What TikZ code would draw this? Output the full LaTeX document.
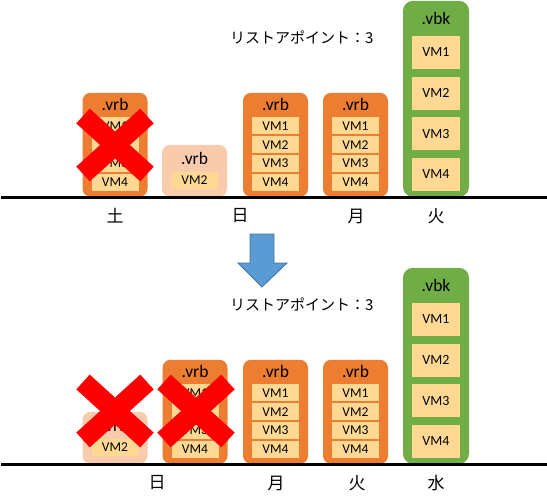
\documentclass[tikz,border=0pt]{standalone}
\usepackage{fontspec}
\setmainfont{Carlito}
\newfontfamily\jpfont{Noto Sans CJK JP}
\usetikzlibrary{positioning}

\definecolor{vrborange}{HTML}{ED7D31}
\definecolor{vrbpale}{HTML}{F8CBAD}
\definecolor{vbkgreen}{HTML}{70AD47}
\definecolor{vmcream}{HTML}{FFD993}
\definecolor{arrowblue}{HTML}{5B9BD5}
\definecolor{arrowedge}{HTML}{41719C}

\tikzset{
  vrbbox/.style={fill=vrborange, rounded corners=8pt, minimum width=65pt, minimum height=104pt, inner sep=0pt, anchor=south},
  palebox/.style={vrbbox, fill=vrbpale, minimum height=52pt},
  vbkbox/.style={vrbbox, fill=vbkgreen, minimum width=66pt, minimum height=196pt, rounded corners=10pt},
  boxtitle/.style={inner sep=0pt, font=\fontsize{17.5}{17.5}\selectfont},
  vmcell/.style={fill=vmcream, minimum width=47pt, minimum height=17pt, inner sep=0pt, font=\fontsize{13.5}{13.5}\selectfont},
  vmbig/.style={vmcell, minimum width=48pt, minimum height=33pt, font=\fontsize{14}{14}\selectfont},
  xmark/.style={draw=red, line width=20pt},
  ground/.style={line width=3pt},
  daylabel/.style={inner sep=0pt, font=\jpfont\fontsize{17}{17}\selectfont},
  rplabel/.style={anchor=west, inner sep=0pt, font=\jpfont\fontsize{15}{15}\selectfont},
}

\begin{document}
\begin{tikzpicture}[x=1pt, y=-1pt]
    \useasboundingbox (0,0) rectangle (547,504);

    % 上段
    \node[rplabel] (trp) at (230,37) {リストアポイント：3};
    \node[vrbbox] (ta) at (115,197) {};
    \node[boxtitle, below=5.5pt of ta.north] (taT) {.vrb};
    \node[vmcell, below=24.5pt of ta.north] (ta1) {VM1};
    \node[vmcell, below=1.5pt of ta1] (ta2) {VM2};
    \node[vmcell, below=1.5pt of ta2] (ta3) {VM3};
    \node[vmcell, below=1.5pt of ta3] (ta4) {VM4};
    \draw[xmark, shift={(115,145)}] (-32,-29) -- (32,29) (-32,29) -- (32,-29);

    \node[palebox] (tb) at (194.5,197) {};
    \node[boxtitle, below=7.5pt of tb.north] (tbT) {.vrb};
    \node[vmcell, below=27pt of tb.north] (tb2) {VM2};

    \node[vrbbox] (tc) at (275.5,197) {};
    \node[boxtitle, below=5.5pt of tc.north] (tcT) {.vrb};
    \node[vmcell, below=24.5pt of tc.north] (tc1) {VM1};
    \node[vmcell, below=1.5pt of tc1] (tc2) {VM2};
    \node[vmcell, below=1.5pt of tc2] (tc3) {VM3};
    \node[vmcell, below=1.5pt of tc3] (tc4) {VM4};

    \node[vrbbox] (td) at (355.5,197) {};
    \node[boxtitle, below=5.5pt of td.north] (tdT) {.vrb};
    \node[vmcell, below=24.5pt of td.north] (td1) {VM1};
    \node[vmcell, below=1.5pt of td1] (td2) {VM2};
    \node[vmcell, below=1.5pt of td2] (td3) {VM3};
    \node[vmcell, below=1.5pt of td3] (td4) {VM4};

    \node[vbkbox] (te) at (436,197) {};
    \node[boxtitle, below=11.5pt of te.north] (teT) {.vbk};
    \node[vmbig, below=35pt of te.north] (te1) {VM1};
    \node[vmbig, below=7.3pt of te1] (te2) {VM2};
    \node[vmbig, below=7.3pt of te2] (te3) {VM3};
    \node[vmbig, below=7.3pt of te3] (te4) {VM4};

    \draw[ground] (1,197) -- (547,197);
    \node[daylabel] (tsat) at (115,216) {土};
    \node[daylabel] (tsun) at (240,216) {日};
    \node[daylabel] (tmon) at (356,216) {月};
    \node[daylabel] (ttue) at (436,216) {火};

    % 矢印
    \draw[fill=arrowblue, draw=arrowedge, line width=0.8pt] (250,234) -- (274,234) -- (274,263) -- (287,263)
        -- (262,287) -- (238,263) -- (250,263) -- cycle;

    % 下段
    \node[rplabel] (brp) at (230,304) {リストアポイント：3};
    \node[palebox] (ba) at (115,464) {};
    \node[boxtitle, below=7.5pt of ba.north] (baT) {.vrb};
    \node[vmcell, below=27pt of ba.north] (ba2) {VM2};
    \draw[xmark, shift={(115,411)}] (-32,-29) -- (32,29) (-32,29) -- (32,-29);

    \node[vrbbox] (bb) at (195,464) {};
    \node[boxtitle, below=5.5pt of bb.north] (bbT) {.vrb};
    \node[vmcell, below=24.5pt of bb.north] (bb1) {VM1};
    \node[vmcell, below=1.5pt of bb1] (bb2) {VM2};
    \node[vmcell, below=1.5pt of bb2] (bb3) {VM3};
    \node[vmcell, below=1.5pt of bb3] (bb4) {VM4};
    \draw[xmark, shift={(196,411)}] (-32,-29) -- (32,29) (-32,29) -- (32,-29);

    \node[vrbbox] (bc) at (275.5,464) {};
    \node[boxtitle, below=5.5pt of bc.north] (bcT) {.vrb};
    \node[vmcell, below=24.5pt of bc.north] (bc1) {VM1};
    \node[vmcell, below=1.5pt of bc1] (bc2) {VM2};
    \node[vmcell, below=1.5pt of bc2] (bc3) {VM3};
    \node[vmcell, below=1.5pt of bc3] (bc4) {VM4};

    \node[vrbbox] (bd) at (355.5,464) {};
    \node[boxtitle, below=5.5pt of bd.north] (bdT) {.vrb};
    \node[vmcell, below=24.5pt of bd.north] (bd1) {VM1};
    \node[vmcell, below=1.5pt of bd1] (bd2) {VM2};
    \node[vmcell, below=1.5pt of bd2] (bd3) {VM3};
    \node[vmcell, below=1.5pt of bd3] (bd4) {VM4};

    \node[vbkbox] (be) at (436,464) {};
    \node[boxtitle, below=11.5pt of be.north] (beT) {.vbk};
    \node[vmbig, below=35pt of be.north] (be1) {VM1};
    \node[vmbig, below=7.3pt of be1] (be2) {VM2};
    \node[vmbig, below=7.3pt of be2] (be3) {VM3};
    \node[vmbig, below=7.3pt of be3] (be4) {VM4};

    \draw[ground] (1,464) -- (547,464);
    \node[daylabel] (bsun) at (157,483) {日};
    \node[daylabel] (bmon) at (276,483) {月};
    \node[daylabel] (btue) at (357,483) {火};
    \node[daylabel] (bwed) at (436,483) {水};
\end{tikzpicture}
\end{document}
